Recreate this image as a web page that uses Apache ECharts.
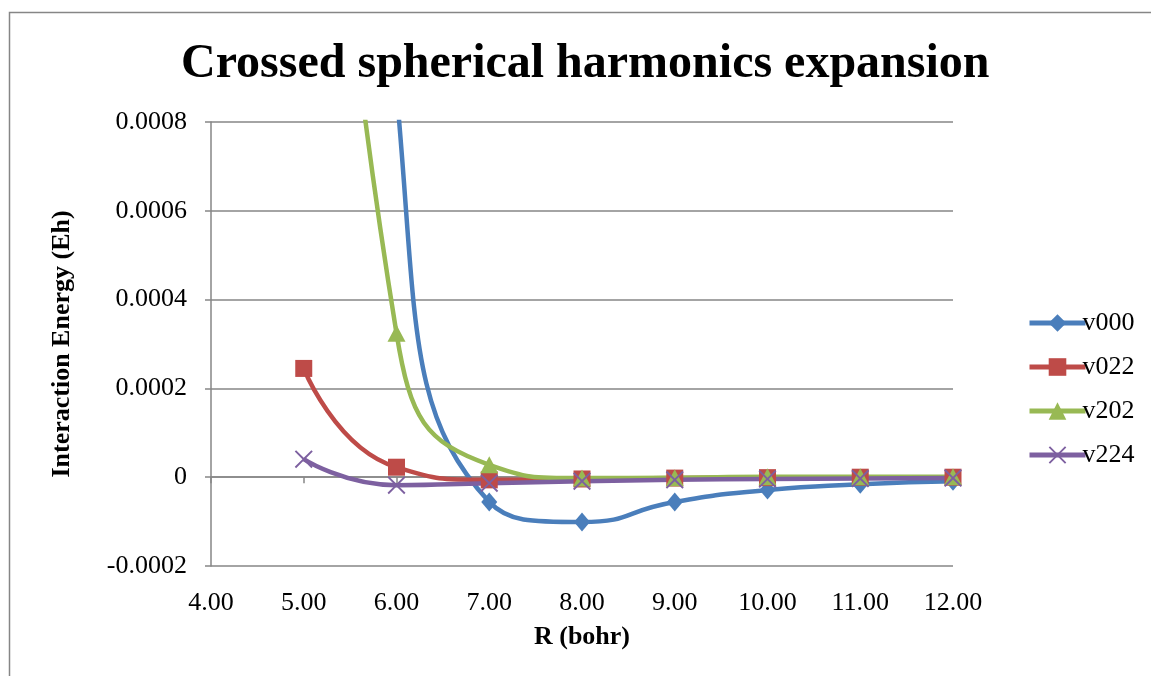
<!DOCTYPE html>
<html>
<head>
<meta charset="utf-8">
<script src="https://cdn.jsdelivr.net/npm/echarts@6/dist/echarts.min.js"></script>
<style>
html,body{margin:0;padding:0;background:#fff;}
#chart{width:1151px;height:676px;}
</style>
</head>
<body>
<div id="chart"></div>
<script>
// Data
const rValues = [5, 6, 7, 8, 9, 10, 11, 12];
const v000 = [0.0045, 0.00087, -0.0000556, -0.000101, -0.000056, -0.000029, -0.000016, -0.000009];
const v022 = [0.000245, 0.0000225, -0.000006, -0.000004, -0.000002, -0.000001, 0.0, 0.0];
const v202 = [0.0026, 0.000324, 0.000028, -0.000002, -0.000001, 0.000001, 0.000001, 0.000001];
const v224 = [0.0000405, -0.000018, -0.0000135, -0.000009, -0.000006, -0.000004, -0.000003, -0.000002];
const seriesNames = ['v000', 'v022', 'v202', 'v224'];
const titleText = 'Crossed spherical harmonics expansion';
const xAxisName = 'R (bohr)';
const yAxisName = 'Interaction Energy (Eh)';

const FONT = "'Liberation Serif', 'Times New Roman', serif";
const GRAY = '#868686';
const colors = ['#4A7EBB', '#BE4B48', '#98B954', '#7D60A0'];
const xPath = 'path://M0,1.5 L1.5,0 L10,8.5 L18.5,0 L20,1.5 L11.5,10 L20,18.5 L18.5,20 L10,11.5 L1.5,20 L0,18.5 L8.5,10 Z';
const symbols = ['diamond', 'rect', 'triangle', xPath];
const symbolSizes = [[16, 19], 17, [18, 17], 18];
const dataSets = [v000, v022, v202, v224];

const pairs = d => rValues.map((x, i) => [x, d[i]]);

const chart = echarts.init(document.getElementById('chart'), null, {renderer: 'canvas'});
chart.setOption({
  animation: false,
  color: colors,
  title: {
    text: titleText,
    left: 176,
    top: 36,
    textStyle: {fontFamily: FONT, fontSize: 48, fontWeight: 'bold', color: '#000'}
  },
  graphic: [{
    type: 'rect',
    shape: {x: 9.5, y: 12.5, width: 1300, height: 800},
    style: {fill: 'none', stroke: GRAY, lineWidth: 1.5},
    silent: true
  }],
  legend: {
    orient: 'vertical',
    left: 1022,
    top: 305,
    itemWidth: 56,
    itemHeight: 22,
    itemGap: 18,
    data: seriesNames,
    lineStyle: {width: 5},
    textStyle: {fontFamily: FONT, fontSize: 26, color: '#000', padding: [0, 0, 0, -8]}
  },
  grid: {left: 211, right: 198, top: 122, bottom: 110, containLabel: false},
  xAxis: [{
    type: 'value',
    min: 4, max: 12, interval: 1,
    axisLine: {show: true, onZero: true, lineStyle: {color: GRAY, width: 1.5}},
    axisTick: {show: true, inside: false, length: 6, lineStyle: {color: GRAY, width: 1.5}},
    axisLabel: {show: false},
    splitLine: {show: false}
  }, {
    type: 'value',
    position: 'bottom',
    min: 4, max: 12, interval: 1,
    axisLine: {show: false, onZero: false},
    axisTick: {show: false},
    splitLine: {show: false},
    axisLabel: {
      show: true, margin: 24,
      fontFamily: FONT, fontSize: 26, color: '#000',
      formatter: v => v.toFixed(2)
    },
    name: xAxisName,
    nameLocation: 'middle',
    nameGap: 58,
    nameTextStyle: {fontFamily: FONT, fontSize: 26, fontWeight: 'bold', color: '#000'}
  }],
  yAxis: {
    type: 'value',
    min: -0.0002, max: 0.0008, interval: 0.0002,
    axisLine: {show: true, lineStyle: {color: GRAY, width: 1.5}},
    axisTick: {show: true, inside: false, length: 6, lineStyle: {color: GRAY, width: 1.5}},
    splitLine: {show: true, lineStyle: {color: GRAY, width: 1.5}},
    axisLabel: {
      margin: 24,
      fontFamily: FONT, fontSize: 26, color: '#000',
      formatter: v => (Math.abs(v) < 1e-12 ? '0' : v.toFixed(4))
    },
    name: yAxisName,
    nameLocation: 'middle',
    nameRotate: 90,
    nameGap: 136,
    nameTextStyle: {fontFamily: FONT, fontSize: 26, fontWeight: 'bold', color: '#000'}
  },
  series: seriesNames.map((name, i) => ({
    name: name,
    type: 'line',
    xAxisIndex: 0,
    data: pairs(dataSets[i]),
    smooth: 0.55,
    clip: true,
    symbol: symbols[i],
    symbolSize: symbolSizes[i],
    showSymbol: true,
    lineStyle: {width: 4.5, color: colors[i]},
    itemStyle: {color: colors[i]},
    emphasis: {disabled: true}
  }))
});
</script>
</body>
</html>
